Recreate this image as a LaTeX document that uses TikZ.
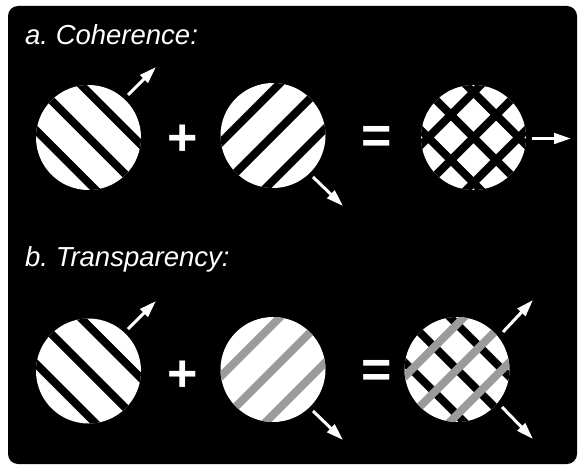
\documentclass[tikz,border=0pt]{standalone}
\usepackage{fontspec}
\setmainfont{Liberation Sans}
\usetikzlibrary{arrows.meta}
\definecolor{stripegray}{RGB}{155,155,155}
\tikzset{
  disc/.style={fill=white},
  bar/.style={line width=8pt, line cap=butt},
  blackbar/.style={bar, draw=black},
  graybar/.style={bar, draw=stripegray},
  motion/.style={draw=white, line width=3pt, -{Triangle[length=17pt,width=10.5pt]}},
  sign/.style={text=white, inner sep=0pt, font=\fontsize{52}{52}\selectfont\bfseries},
  caption/.style={text=white, inner sep=0pt, anchor=base west, font=\frenchspacing\fontsize{27.5}{30}\selectfont\itshape}
}
% a grating: three parallel bars clipped to a disc
\newcommand\grating[3]{%
  \begin{scope}
    \clip (#1) circle[radius=52.5];
    \foreach \k in {-1,0,1} {\draw[#3, shift={(#1)}, rotate=#2] (-60,\k*32) -- (60,\k*32);}
  \end{scope}}
\begin{document}
\begin{tikzpicture}[x=1pt, y=-1pt]
  \useasboundingbox (0,0) rectangle (581,468);
  \fill[white] (0,0) rectangle (581,468);
  \fill[black, rounded corners=10pt] (8,6) rectangle (577,464);

  % disc centres
  \coordinate (c1) at (88.5,137.5);
  \coordinate (c2) at (273,135.5);
  \coordinate (c3) at (473.5,137.5);
  \coordinate (d1) at (88.5,371);
  \coordinate (d2) at (273,369.5);
  \coordinate (d3) at (457,369.5);

  \node[caption] (la) at (25,45) {a. Coherence:};
  \node[caption] (lb) at (25,266) {b. Transparency:};

  % row a: two black gratings and their plaid
  \fill[disc] (c1) circle[radius=52.5];
  \grating{c1}{-45}{blackbar}
  \fill[disc] (c2) circle[radius=52.5];
  \grating{c2}{45}{blackbar}
  \fill[disc] (c3) circle[radius=52.5];
  \grating{c3}{-45}{blackbar}
  \grating{c3}{45}{blackbar}

  % row b: black grating, grey grating, and the two overlaid
  \fill[disc] (d1) circle[radius=52.5];
  \grating{d1}{-45}{blackbar}
  \fill[disc] (d2) circle[radius=52.5];
  \grating{d2}{45}{graybar}
  \fill[disc] (d3) circle[radius=52.5];
  \grating{d3}{-45}{blackbar}
  \grating{d3}{45}{graybar}

  \node[sign] (pa) at (182.5,140) {+};
  \node[sign] (ea) at (376.5,140) {=};
  \node[sign] (pb) at (182.5,376) {+};
  \node[sign] (eb) at (376.5,374) {=};

  % motion directions
  \coordinate (a1s) at (128,95);   \coordinate (a1e) at (156,67);
  \coordinate (a2s) at (313,177);  \coordinate (a2e) at (343,206);
  \coordinate (a3s) at (532,138.5);  \coordinate (a3e) at (571,138.5);
  \coordinate (b1s) at (128,329);  \coordinate (b1e) at (156,301);
  \coordinate (b2s) at (313,411);  \coordinate (b2e) at (343,440);
  \coordinate (b3s) at (503,332);  \coordinate (b3e) at (533,300);
  \coordinate (b4s) at (502,407);  \coordinate (b4e) at (533,439);
  \draw[motion] (a1s) -- (a1e);
  \draw[motion] (a2s) -- (a2e);
  \draw[motion] (a3s) -- (a3e);
  \draw[motion] (b1s) -- (b1e);
  \draw[motion] (b2s) -- (b2e);
  \draw[motion] (b3s) -- (b3e);
  \draw[motion] (b4s) -- (b4e);
\end{tikzpicture}
\end{document}
